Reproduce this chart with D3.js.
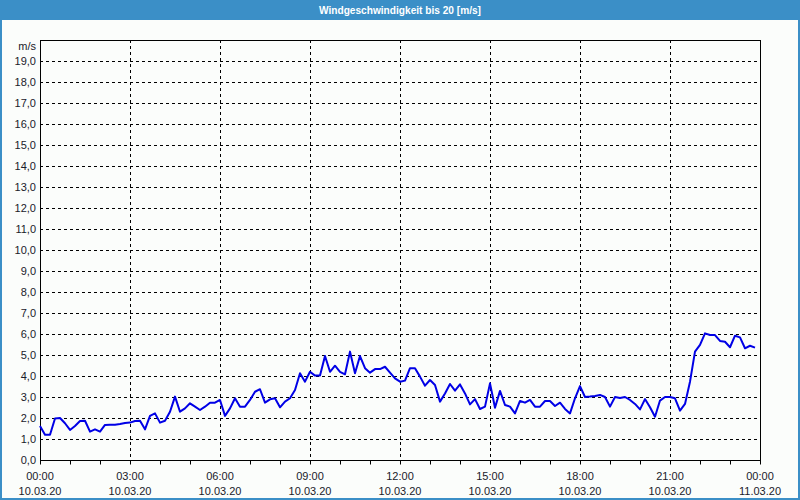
<!DOCTYPE html>
<html>
<head>
<meta charset="utf-8">
<script src="https://cdn.jsdelivr.net/npm/d3@7"></script>
<style>
  body { margin: 0; background: #fbfdfb; }
  svg { display: block; font-family: "Liberation Sans", "DejaVu Sans", sans-serif; }
</style>
</head>
<body>
<div id="chart"></div>
<script>
// Chart data: wind speed in m/s, one reading every 10 minutes from 10.03.20 00:00
let title = "Windgeschwindigkeit bis 20 [m/s]";
let unitLabel = "m/s";
let startTime = Date.UTC(2020, 2, 10, 0, 0);
let stepMinutes = 10;
let speeds = [
  1.62, 1.2, 1.2, 1.98, 2.0, 1.75, 1.43, 1.62, 1.86, 1.87,
  1.35, 1.46, 1.35, 1.67, 1.68, 1.68, 1.71, 1.76, 1.78, 1.86,
  1.87, 1.46, 2.1, 2.22, 1.78, 1.87, 2.3, 3.02, 2.3, 2.46,
  2.7, 2.54, 2.38, 2.54, 2.73, 2.73, 2.86, 2.1, 2.46, 2.94,
  2.54, 2.54, 2.86, 3.25, 3.37, 2.73, 2.89, 2.94, 2.51, 2.78,
  2.94, 3.33, 4.13, 3.73, 4.2, 4.02, 4.02, 4.95, 4.2, 4.49,
  4.2, 4.08, 5.16, 4.13, 4.95, 4.37, 4.16, 4.33, 4.33, 4.44,
  4.16, 3.89, 3.73, 3.78, 4.37, 4.37, 3.97, 3.54, 3.81, 3.57,
  2.78, 3.17, 3.62, 3.3, 3.6, 3.17, 2.65, 2.9, 2.43, 2.54,
  3.65, 2.49, 3.29, 2.62, 2.54, 2.22, 2.81, 2.73, 2.86, 2.54,
  2.54, 2.81, 2.81, 2.57, 2.73, 2.43, 2.22, 2.94, 3.52, 3.0,
  3.02, 3.05, 3.1, 3.0, 2.54, 3.0, 2.95, 3.0, 2.86, 2.67,
  2.41, 2.9, 2.51, 2.06, 2.83, 3.0, 3.0, 2.94, 2.35, 2.67,
  3.73, 5.16, 5.48, 6.03, 5.95, 5.95, 5.67, 5.63, 5.37, 5.92,
  5.84, 5.32, 5.44, 5.35
];
let yTicks = d3.range(0, 20, 1);
let yGrid = d3.range(1, 20, 1);

let data = speeds.map(function(v, i) {
  return { time: new Date(startTime + i * stepMinutes * 60000), speed: v };
});

let totalW = 800, totalH = 500;
let margin = { top: 40, right: 40, bottom: 40, left: 40 };
let width = totalW - margin.left - margin.right,
  height = totalH - margin.top - margin.bottom;

let blue = "#3b8fc7";

let x = d3.scaleUtc()
  .domain([new Date(startTime), new Date(startTime + 24 * 3600000)])
  .range([0, width]);
let y = d3.scaleLinear().domain([0, 20]).range([height, 0]);

let svg = d3.select("#chart").append("svg")
  .attr("width", totalW)
  .attr("height", totalH);

// background + frame
svg.append("rect")
  .attr("width", totalW).attr("height", totalH)
  .attr("fill", "#fbfdfb");

// title bar
svg.append("rect")
  .attr("width", totalW).attr("height", 20)
  .attr("fill", blue);
svg.append("text")
  .attr("x", totalW / 2).attr("y", 14)
  .attr("text-anchor", "middle")
  .attr("fill", "white")
  .attr("font-weight", "bold")
  .attr("font-size", "11px")
  .attr("textLength", 162)
  .attr("lengthAdjust", "spacingAndGlyphs")
  .text(title);

svg.append("rect")
  .attr("x", 1).attr("y", 1)
  .attr("width", totalW - 2).attr("height", totalH - 2)
  .attr("fill", "none")
  .attr("stroke", blue)
  .attr("stroke-width", 2);

let g = svg.append("g")
  .attr("transform", "translate(" + margin.left + "," + margin.top + ")");

// horizontal grid
g.append("g")
  .selectAll("line")
  .data(yGrid)
  .join("line")
  .attr("x1", 0).attr("x2", width)
  .attr("y1", d => Math.round(y(d)) + 0.5)
  .attr("y2", d => Math.round(y(d)) + 0.5)
  .attr("stroke", "#000")
  .attr("stroke-dasharray", "3,3");

// vertical grid every 3 hours
let vGrid = d3.utcHour.every(3).range(x.domain()[0], x.domain()[1]).slice(1);
g.append("g")
  .selectAll("line")
  .data(vGrid)
  .join("line")
  .attr("x1", d => Math.round(x(d)) + 0.5)
  .attr("x2", d => Math.round(x(d)) + 0.5)
  .attr("y1", 0).attr("y2", height)
  .attr("stroke", "#000")
  .attr("stroke-dasharray", "3,3");

// y labels
let fmtNum = d => d.toFixed(1).replace(".", ",");
g.append("g")
  .selectAll("text")
  .data(yTicks)
  .join("text")
  .attr("x", -4)
  .attr("y", d => y(d) + 4)
  .attr("text-anchor", "end")
  .attr("font-size", "11px")
  .attr("fill", "#1a1a2a")
  .text(fmtNum);

g.append("text")
  .attr("x", -4).attr("y", 10)
  .attr("text-anchor", "end")
  .attr("font-size", "11px")
  .attr("fill", "#1a1a2a")
  .text(unitLabel);

// x axis with hourly ticks
let xAxis = d3.axisBottom(x)
  .ticks(d3.utcHour.every(1))
  .tickSize(4)
  .tickFormat("");
g.append("g")
  .attr("class", "x axis")
  .attr("transform", "translate(0," + (height + 0.5) + ")")
  .call(xAxis)
  .call(a => a.select(".domain").remove())
  .call(a => a.selectAll(".tick line").attr("stroke", "#000"));

let fmtTime = d3.utcFormat("%H:%M"), fmtDate = d3.utcFormat("%d.%m.%y");
let labelTimes = d3.utcHour.every(3).range(x.domain()[0], new Date(+x.domain()[1] + 1));
let lbl = g.append("g")
  .selectAll("g")
  .data(labelTimes)
  .join("g")
  .attr("transform", d => "translate(" + x(d) + "," + height + ")");
lbl.append("text")
  .attr("y", 20)
  .attr("text-anchor", "middle")
  .attr("font-size", "11px")
  .attr("fill", "#1a1a2a")
  .text(fmtTime);
lbl.append("text")
  .attr("y", 35)
  .attr("text-anchor", "middle")
  .attr("font-size", "11px")
  .attr("fill", "#1a1a2a")
  .text(fmtDate);

// plot frame
g.append("rect")
  .attr("x", 0.5).attr("y", 0.5)
  .attr("width", width).attr("height", height)
  .attr("fill", "none")
  .attr("stroke", "#000");

// data line
let line = d3.line()
  .x(d => x(d.time))
  .y(d => y(d.speed));

g.append("path")
  .datum(data)
  .attr("fill", "none")
  .attr("stroke", "#0000e6")
  .attr("stroke-width", 2)
  .attr("stroke-linejoin", "round")
  .attr("d", line);
</script>
</body>
</html>
